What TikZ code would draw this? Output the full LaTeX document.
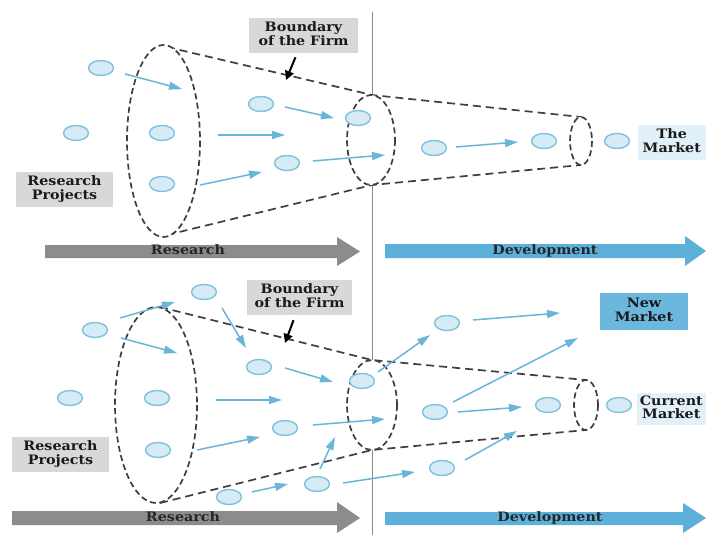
\documentclass[tikz,border=0pt]{standalone}
\usepackage{graphicx}
\usepackage{fontspec}
\setmainfont{DejaVu Serif}
\usetikzlibrary{arrows.meta,shapes.geometric}

\definecolor{dashgray}{HTML}{3F3F3F}
\definecolor{axisgray}{HTML}{8A8A8A}
\definecolor{boxgray}{HTML}{D8D8D8}
\definecolor{bandgray}{HTML}{8C8C8C}
\definecolor{bandblue}{HTML}{5CB0DA}
\definecolor{flowblue}{HTML}{6AB6D9}
\definecolor{dotfill}{HTML}{D6EBF6}
\definecolor{dotline}{HTML}{80C1DC}
\definecolor{newblue}{HTML}{6CB7DE}
\definecolor{marketblue}{HTML}{E2F1F9}

% wide serif label, one or more lines
\newcommand{\lbl}[1]{\scalebox{1.1}[1]{\renewcommand{\arraystretch}{0.82}\begin{tabular}{@{}c@{}}#1\end{tabular}}}

\tikzset{
  funnel/.style={draw=dashgray, line width=1.7pt, dash pattern=on 8pt off 5pt},
  rim/.style={draw=dashgray, fill=white, line width=1.7pt, dash pattern=on 6pt off 3.5pt},
  proj/.style={ellipse, draw=dotline, fill=dotfill, line width=1.4pt,
               minimum width=25pt, minimum height=15pt, inner sep=0pt},
  flow/.style={draw=flowblue, line width=1.5pt, -{Triangle[length=13pt,width=8pt]}},
  pointer/.style={draw=black, line width=2pt, -{Triangle[length=9pt,width=9pt]}},
  tag/.style={font=\fontsize{13}{14.5}\selectfont\bfseries, text=black!90, inner sep=0pt},
  graytag/.style={tag, fill=boxgray},
  bandtext/.style={font=\fontsize{13}{14.5}\selectfont\bfseries, text=black!85, inner sep=0pt}
}

\begin{document}
\begin{tikzpicture}[x=1pt,y=-1pt]
\useasboundingbox (0,0) rectangle (706,535);
\fill[white] (0,0) rectangle (706,535);

% research / development divide
\draw[axisgray, line width=1pt] (372,12) -- (372,535);

%================ upper funnel ================
\draw[funnel] (167,47) -- (372,95) -- (581,117);
\draw[funnel] (167,235) -- (372,185) -- (581,165);
\draw[rim] (163.5,141) ellipse [x radius=36.5, y radius=96];
\draw[rim] (371,140) ellipse [x radius=24, y radius=45];
\draw[rim] (581,141) ellipse [x radius=11, y radius=24];

\node[graytag, minimum width=109pt, minimum height=35pt] (bndA) at (303.5,35.5) {\lbl{Boundary\\of the Firm}};
\coordinate (bndAtip) at (286,80);
\draw[pointer] (bndA.south) ++(-8,4) coordinate (bndAtail) (bndAtail) -- (bndAtip);

\node[graytag, minimum width=97pt, minimum height=35pt] (rpA) at (64.5,189.5) {\lbl{Research\\Projects}};
\node[tag, fill=marketblue, minimum width=68pt, minimum height=35pt, anchor=east] (mktA) at (706,142.5) {\lbl{The\\Market}};

\node[proj] (t1) at (101,68) {};
\node[proj] (t2) at (76,133) {};
\node[proj] (t3) at (162,133) {};
\node[proj] (t4) at (162,184) {};
\node[proj] (t5) at (261,104) {};
\node[proj] (t6) at (287,163) {};
\node[proj] (t7) at (358,118) {};
\node[proj] (t8) at (434,148) {};
\node[proj] (t9) at (544,141) {};
\node[proj] (t10) at (617,141) {};

\coordinate (ua1) at (125,74);  \coordinate (va1) at (182,89);
\coordinate (ua2) at (218,135); \coordinate (va2) at (285,135);
\coordinate (ua3) at (200,185); \coordinate (va3) at (262,172);
\coordinate (ua4) at (285,107); \coordinate (va4) at (334,118);
\coordinate (ua5) at (313,161); \coordinate (va5) at (385,155);
\coordinate (ua6) at (456,147); \coordinate (va6) at (518,142);
\foreach \i in {1,...,6} \draw[flow] (ua\i) -- (va\i);

% phase bands
\fill[bandgray] (45,245) -- (337,245) -- (337,237) -- (360,251.5) -- (337,266) -- (337,258) -- (45,258) -- cycle;
\fill[bandblue] (385,244) -- (685,244) -- (685,236) -- (706,251) -- (685,266) -- (685,258) -- (385,258) -- cycle;
\node[bandtext] (resA) at (188,251.5) {\lbl{Research}};
\node[bandtext] (devA) at (545,251.5) {\lbl{Development}};

%================ lower funnel ================
\draw[funnel] (160,307) -- (372,360) -- (586,380);
\draw[funnel] (160,503) -- (372,450) -- (586,430);
\draw[rim] (156,405) ellipse [x radius=41, y radius=98];
\draw[rim] (372,405) ellipse [x radius=25, y radius=45];
\draw[rim] (586,405) ellipse [x radius=12, y radius=25];

\node[graytag, minimum width=105pt, minimum height=35pt] (bndB) at (299.5,297.5) {\lbl{Boundary\\of the Firm}};
\coordinate (bndBtip) at (285,343);
\draw[pointer] (bndB.south) ++(-6,5) coordinate (bndBtail) (bndBtail) -- (bndBtip);

\node[graytag, minimum width=97pt, minimum height=35pt] (rpB) at (60.5,454.5) {\lbl{Research\\Projects}};
\node[tag, fill=newblue, minimum width=88pt, minimum height=37pt] (newB) at (644,311.5) {\lbl{New\\Market}};
\node[tag, fill=marketblue, minimum width=69pt, minimum height=32pt, anchor=east] (curB) at (706,409) {\lbl{Current\\Market}};

\node[proj] (b1) at (95,330) {};
\node[proj] (b2) at (204,292) {};
\node[proj] (b3) at (70,398) {};
\node[proj] (b4) at (157,398) {};
\node[proj] (b5) at (158,450) {};
\node[proj] (b6) at (259,367) {};
\node[proj] (b7) at (285,428) {};
\node[proj] (b8) at (362,381) {};
\node[proj] (b9) at (317,484) {};
\node[proj] (b10) at (229,497) {};
\node[proj] (b11) at (447,323) {};
\node[proj] (b12) at (435,412) {};
\node[proj] (b13) at (548,405) {};
\node[proj] (b14) at (619,405) {};
\node[proj] (b15) at (442,468) {};

\coordinate (ub1) at (120,318);  \coordinate (vb1) at (175,302);
\coordinate (ub2) at (121,338);  \coordinate (vb2) at (177,353);
\coordinate (ub3) at (222,308);  \coordinate (vb3) at (246,348);
\coordinate (ub4) at (285,368);  \coordinate (vb4) at (333,382);
\coordinate (ub5) at (216,400);  \coordinate (vb5) at (282,400);
\coordinate (ub6) at (197,450);  \coordinate (vb6) at (260,437);
\coordinate (ub7) at (313,425);  \coordinate (vb7) at (385,419);
\coordinate (ub8) at (320,469);  \coordinate (vb8) at (335,437);
\coordinate (ub9) at (252,492);  \coordinate (vb9) at (288,484);
\coordinate (ub10) at (343,483); \coordinate (vb10) at (415,472);
\coordinate (ub11) at (378,372); \coordinate (vb11) at (430,335);
\coordinate (ub12) at (473,320); \coordinate (vb12) at (560,313);
\coordinate (ub13) at (453,402); \coordinate (vb13) at (578,338);
\coordinate (ub14) at (458,412); \coordinate (vb14) at (522,407);
\coordinate (ub15) at (465,460); \coordinate (vb15) at (517,431);
\foreach \i in {1,...,15} \draw[flow] (ub\i) -- (vb\i);

% phase bands
\fill[bandgray] (12,511) -- (337,511) -- (337,502) -- (360,518) -- (337,533) -- (337,525) -- (12,525) -- cycle;
\fill[bandblue] (385,512) -- (683,512) -- (683,503) -- (706,518) -- (683,533) -- (683,525) -- (385,525) -- cycle;
\node[bandtext] (resB) at (183,518) {\lbl{Research}};
\node[bandtext] (devB) at (550,518) {\lbl{Development}};
\end{tikzpicture}
\end{document}
